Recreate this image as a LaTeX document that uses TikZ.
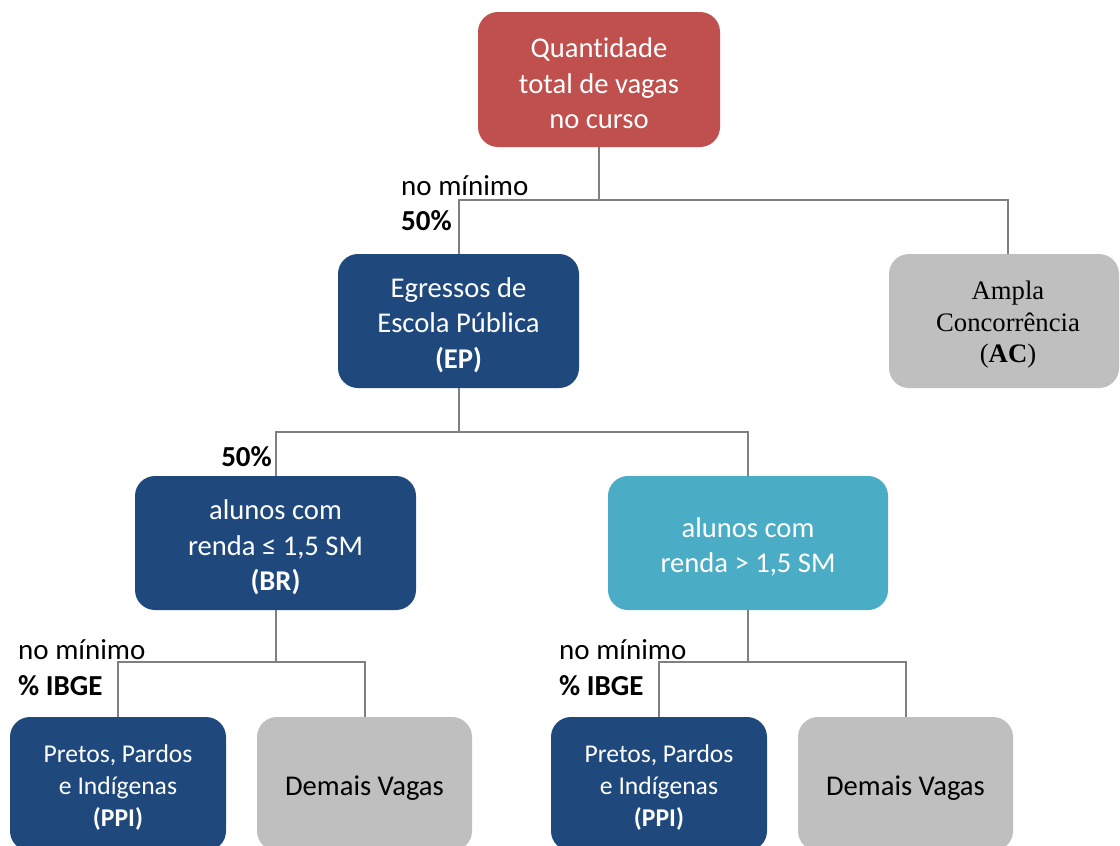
\documentclass[tikz,border=0pt]{standalone}
\usepackage{fontspec}
\setmainfont{Carlito}[Ligatures=CommonOff]
\newfontfamily\serifac{Liberation Serif}
\definecolor{cred}{HTML}{C0504D}
\definecolor{cdark}{HTML}{1F497D}
\definecolor{clight}{HTML}{4BACC6}
\definecolor{cgray}{HTML}{BFBFBF}
\definecolor{cline}{HTML}{808080}
\tikzset{
  boxbase/.style={rectangle, rounded corners=20pt, inner sep=0pt, minimum height=134pt},
  txtbase/.style={align=center, inner sep=0pt},
  bigtxt/.style={txtbase, font=\fontsize{28.6}{35.5}\selectfont},
  smalltxt/.style={txtbase, font=\fontsize{25.6}{32}\selectfont},
  actxt/.style={txtbase, font=\serifac\fontsize{26.7}{31.5}\selectfont},
  conn/.style={draw=cline, line width=2pt},
  lbl/.style={font=\fontsize{29}{34}\selectfont, inner sep=0pt}
}
\begin{document}
\begin{tikzpicture}[x=1pt,y=-1pt]
\clip (0,0) rectangle (1120,846);
\fill[white] (0,0) rectangle (1120,846);
% boxes
\node[boxbase,fill=cred,minimum width=242pt,minimum height=135pt] (top) at (599,79.5) {};
\node[boxbase,fill=cdark,minimum width=241pt] (ep) at (458.5,321) {};
\node[boxbase,fill=cgray,minimum width=230pt] (ac) at (1004,321) {};
\node[boxbase,fill=cdark,minimum width=281pt] (br) at (275.5,543) {};
\node[boxbase,fill=clight,minimum width=280pt] (gr) at (748,543) {};
\node[boxbase,fill=cdark,minimum width=216pt] (ppia) at (118,784) {};
\node[boxbase,fill=cgray,minimum width=215pt] (dva) at (364.5,784) {};
\node[boxbase,fill=cdark,minimum width=216pt] (ppib) at (659,784) {};
\node[boxbase,fill=cgray,minimum width=215pt] (dvb) at (905.5,784) {};
% box texts
\node[bigtxt,text=white] (ttop) at ([yshift=-4pt]top.center) {Quantidade\\total de vagas\\no curso};
\node[bigtxt,text=white] (tep) at ([yshift=-4pt]ep.center) {Egressos de\\Escola Pública\\\textbf{(EP)}};
\node[actxt,text=black] (tac) at ([xshift=4pt,yshift=-4pt]ac.center) {Ampla\\Concorrência\\(\textbf{AC})};
\node[bigtxt,text=white] (tbr) at ([yshift=-4.5pt]br.center) {alunos com\\renda ≤ 1,5 SM\\\textbf{(BR)}};
\node[bigtxt,text=white] (tgr) at ([yshift=-4pt]gr.center) {alunos com\\renda > 1,5 SM};
\node[smalltxt,text=white] (tppia) at ([yshift=-4pt]ppia.center) {Pretos, Pardos\\e Indígenas\\\textbf{(PPI)}};
\node[bigtxt,text=black] (tdva) at ([yshift=-4pt]dva.center) {Demais Vagas};
\node[smalltxt,text=white] (tppib) at ([yshift=-4pt]ppib.center) {Pretos, Pardos\\e Indígenas\\\textbf{(PPI)}};
\node[bigtxt,text=black] (tdvb) at ([yshift=-4pt]dvb.center) {Demais Vagas};
% connectors
\draw[conn] (top.south) -- ++(0,53) -| (ep.north);
\draw[conn] (top.south) -- ++(0,53) -| ([xshift=4pt]ac.north);
\draw[conn] (ep.south) -- ++(0,44) -| (br.north);
\draw[conn] (ep.south) -- ++(0,44) -| (gr.north);
\draw[conn] (br.south) -- ++(0,52) -| (ppia.north);
\draw[conn] (br.south) -- ++(0,52) -| (dva.north);
\draw[conn] (gr.south) -- ++(0,52) -| (ppib.north);
\draw[conn] (gr.south) -- ++(0,52) -| (dvb.north);
% labels
\node[lbl,anchor=west] (l1) at (401,186) {no mínimo};
\node[lbl,anchor=west] (l2) at (401,221) {\textbf{50\%}};
\node[lbl,anchor=east] (l3) at (272,457) {\textbf{50\%}};
\node[lbl,anchor=west] (l4) at (18,650) {no mínimo};
\node[lbl,anchor=west] (l5) at (18,686) {\textbf{\% IBGE}};
\node[lbl,anchor=west] (l6) at (559,650) {no mínimo};
\node[lbl,anchor=west] (l7) at (559,686) {\textbf{\% IBGE}};
\end{tikzpicture}
\end{document}
